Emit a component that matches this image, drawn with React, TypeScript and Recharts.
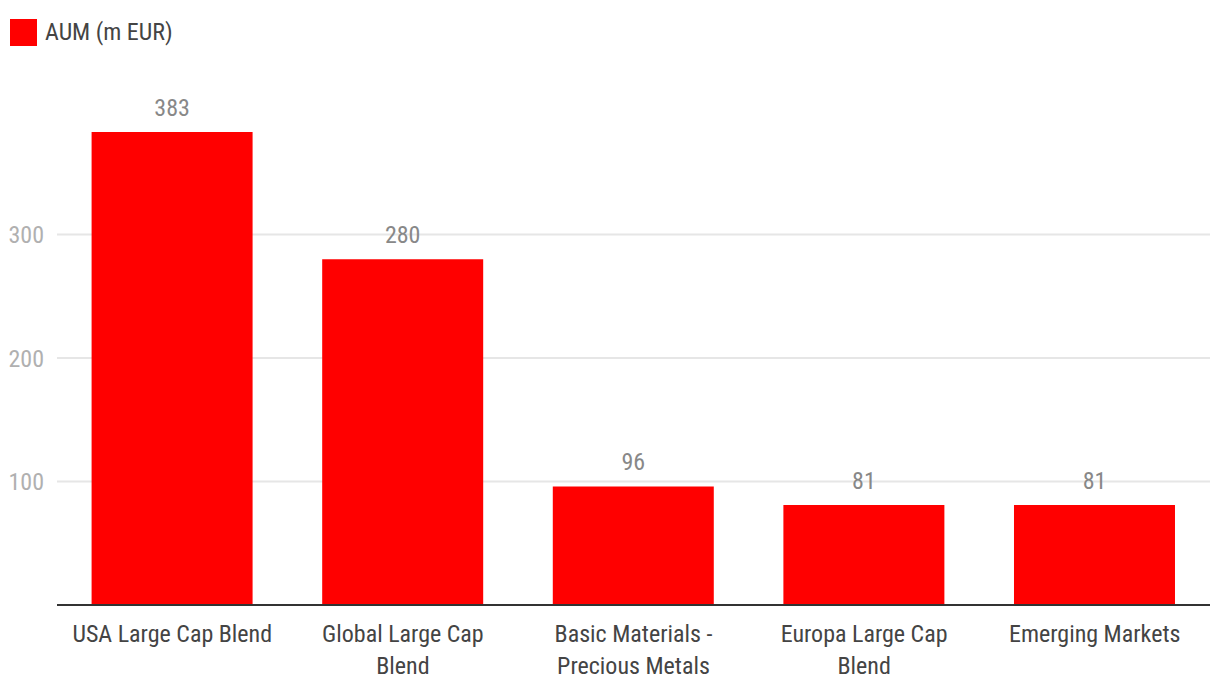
import React from 'react';
import { BarChart, Bar, XAxis, YAxis, CartesianGrid, LabelList } from 'recharts';

const categories = [
    'USA Large Cap Blend',
    'Global Large Cap Blend',
    'Basic Materials - Precious Metals',
    'Europa Large Cap Blend',
    'Emerging Markets',
];
const aum = [383, 280, 96, 81, 81];
const yTicks = [0, 100, 200, 300];
const gridValues = [100, 200, 300];
const seriesName = 'AUM (m EUR)';

const data = categories.map((name, i) => ({ name, aum: aum[i] }));

const FONT = '"Roboto Condensed", "Liberation Sans Narrow", "DejaVu Sans Condensed", sans-serif';
const TICK_FONT_SIZE = 24;
const MAX_LABEL_WIDTH = 205;

let ctx: CanvasRenderingContext2D | null = null;
const measure = (s: string) => {
    if (!ctx) {
        ctx = document.createElement('canvas').getContext('2d');
    }
    if (!ctx) return s.length * 11;
    ctx.font = `${TICK_FONT_SIZE}px ${FONT}`;
    return ctx.measureText(s).width;
};

// greedy word wrap
const wrap = (text: string) => {
    const words = text.split(' ');
    const lines: string[] = [];
    let cur = '';
    words.forEach((w) => {
        const next = cur ? `${cur} ${w}` : w;
        if (cur && measure(next) > MAX_LABEL_WIDTH) {
            lines.push(cur);
            cur = w;
        } else {
            cur = next;
        }
    });
    if (cur) lines.push(cur);
    return lines;
};

const CategoryTick = ({ x, y, payload }: any) => {
    const lines = wrap(String(payload.value));
    return (
        <text x={x} y={y + 37} textAnchor="middle" fontSize={TICK_FONT_SIZE} fontFamily={FONT} fill="#444">
            {lines.map((l, i) => (
                <tspan key={i} x={x} dy={i === 0 ? 0 : 32}>{l}</tspan>
            ))}
        </text>
    );
};

export default function App() {
    return (
        <div style={{ position: 'absolute', left: 0, top: 0, width: 1220, height: 696, background: '#fff' }}>
            {/* Legend */}
            <div
                style={{
                    position: 'absolute', left: 10, top: 18, zIndex: 1,
                    display: 'flex', alignItems: 'center', fontFamily: FONT, fontSize: 24, color: '#444',
                }}
            >
                <span style={{ width: 27, height: 27, background: '#ff0000', display: 'inline-block', marginRight: 8 }} />
                {seriesName}
            </div>
            <BarChart
                width={1220}
                height={696}
                data={data}
                margin={{ top: 111, right: 10, left: 0, bottom: 0 }}
                barCategoryGap="15%"
            >
                <CartesianGrid vertical={false} stroke="#e6e6e6" strokeWidth={2} horizontalValues={gridValues} />
                <XAxis
                    dataKey="name"
                    height={91}
                    tickLine={false}
                    tickSize={0}
                    tickMargin={0}
                    axisLine={{ stroke: '#333', strokeWidth: 2 }}
                    tick={<CategoryTick />}
                    interval={0}
                />
                <YAxis
                    width={57}
                    domain={[0, 400]}
                    ticks={yTicks}
                    tickFormatter={(v) => (v === 0 ? '' : String(v))}
                    axisLine={false}
                    tickLine={false}
                    tickSize={0}
                    tickMargin={13}
                    tick={{ fontSize: 24, fill: '#b0b0b0', fontFamily: FONT }}
                />
                <Bar dataKey="aum" name={seriesName} fill="#ff0000" isAnimationActive={false}>
                    <LabelList
                        dataKey="aum"
                        position="top"
                        offset={16}
                        fill="#888"
                        fontSize={24}
                        fontFamily={FONT}
                    />
                </Bar>
            </BarChart>
        </div>
    );
}
